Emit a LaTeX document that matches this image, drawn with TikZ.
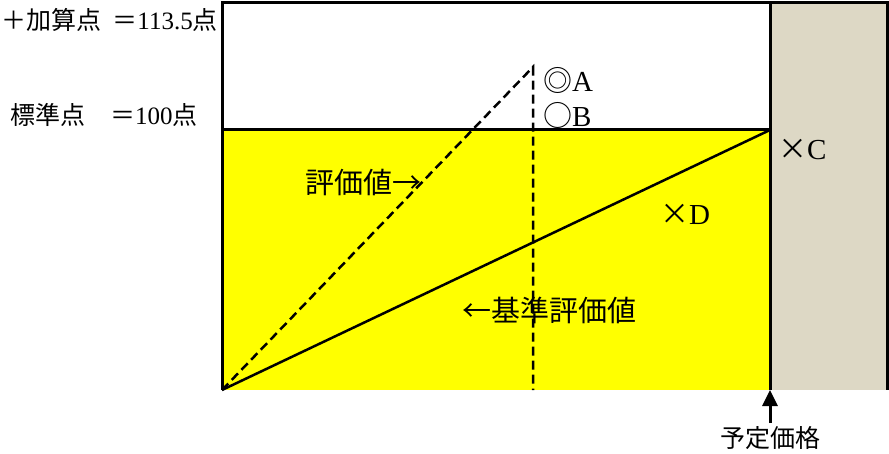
\documentclass[tikz,border=0pt]{standalone}
\usepackage{fontspec}
\setmainfont{Liberation Serif}
\newfontfamily\cjk{Noto Sans CJK JP}
\usetikzlibrary{arrows.meta}
\definecolor{tanbg}{RGB}{221,216,197}
\definecolor{yel}{RGB}{255,255,0}
\tikzset{
  border/.style={line width=3pt},
  diag/.style={line width=2.5pt},
  dashline/.style={line width=2.5pt, dash pattern=on 9pt off 5pt},
  lbl/.style={inner sep=0pt, anchor=west, font=\fontsize{29}{31}\selectfont},
  side/.style={inner sep=0pt, font=\fontsize{25}{27}\selectfont},
}
\begin{document}
\begin{tikzpicture}[x=1pt,y=-1pt]
\useasboundingbox (0,0) rectangle (889,454);
\coordinate (TL) at (222,3);
\coordinate (VT) at (770,3);
\coordinate (TR) at (887,3);
\coordinate (ML) at (222,130);
\coordinate (MR) at (770,130);
\coordinate (BL) at (222,390);
\coordinate (BR) at (770,390);
\coordinate (SR) at (887,390);
\coordinate (Apex) at (533,67);
\coordinate (AB) at (533,390);
\fill[tanbg] (VT) rectangle (SR);
\fill[yel] (ML) rectangle (BR);
\draw[diag] (BL) -- (MR);
\draw[dashline] (BL) -- (Apex) -- (AB);
\draw[border] (BL) -- (TL) -- (TR) -- (SR);
\draw[border] (VT) -- (BR);
\draw[border] (ML) -- (MR);
\node[side, anchor=east] (kasan) at (218,20) {{\cjk ＋加算点\hspace{0.45em}＝}113.5{\cjk 点}};
\node[side, anchor=west] (hyojun) at (10,115) {{\cjk 標準点　＝}100{\cjk 点}};
\node[lbl] (A) at (543,80) {{\cjk ◎}A};
\node[lbl] (B) at (543,115) {{\cjk ○}B};
\node[lbl] (C) at (778,150) {{\cjk ×}C};
\node[lbl] (D) at (660,214) {{\cjk ×}D};
\node[lbl] (hyoka) at (305,182) {\cjk 評価値→};
\node[lbl] (kijun) at (462,310) {\cjk ←基準評価値};
\node[side, anchor=center] (yotei) at (770,438) {\cjk 予定価格};
\draw[line width=3pt, -{Triangle[length=16pt,width=15pt]}] (yotei.north) ++(0,-3) -- (BR);
\end{tikzpicture}
\end{document}
